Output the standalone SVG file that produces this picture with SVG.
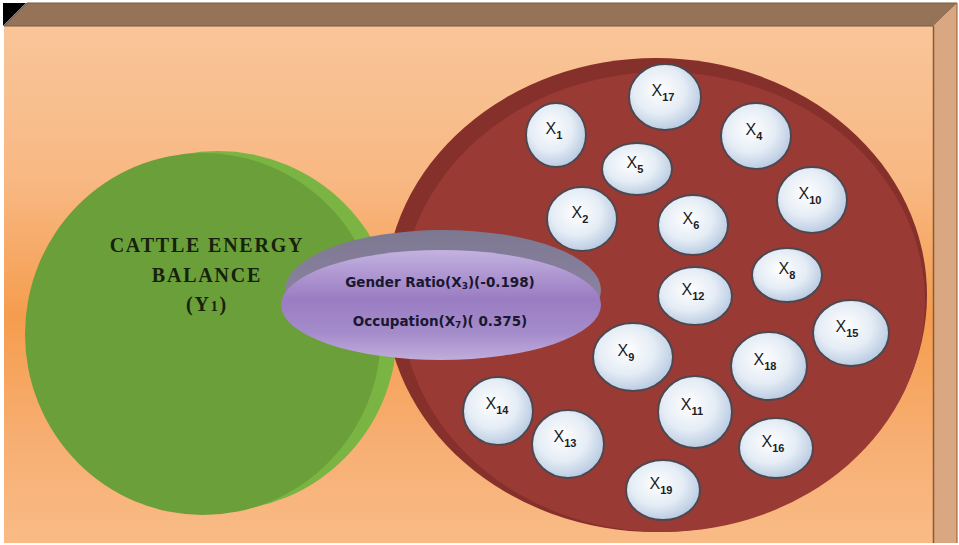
<svg xmlns="http://www.w3.org/2000/svg" width="959" height="545" viewBox="0 0 959 545">
  <defs>
    <linearGradient id="faceGrad" x1="0" y1="0" x2="0" y2="1">
      <stop offset="0" stop-color="#f9c599"/>
      <stop offset="0.3" stop-color="#f8b883"/>
      <stop offset="0.56" stop-color="#f59d4e"/>
      <stop offset="0.8" stop-color="#f7ae72"/>
      <stop offset="1" stop-color="#f9bb86"/>
    </linearGradient>
    <linearGradient id="purpleFace" x1="0" y1="0" x2="0" y2="1">
      <stop offset="0" stop-color="#c3b2e0"/>
      <stop offset="0.45" stop-color="#9a7cc2"/>
      <stop offset="0.75" stop-color="#a48ccb"/>
      <stop offset="1" stop-color="#c0acdc"/>
    </linearGradient>
    <linearGradient id="purpleRim" x1="0" y1="0" x2="0" y2="1">
      <stop offset="0" stop-color="#7d7892"/>
      <stop offset="1" stop-color="#958aab"/>
    </linearGradient>
    <radialGradient id="bubbleGrad" cx="0.42" cy="0.4" r="0.65">
      <stop offset="0" stop-color="#ffffff"/>
      <stop offset="0.55" stop-color="#e4ecf5"/>
      <stop offset="1" stop-color="#b3c6df"/>
    </radialGradient>
    <style>
      .bubble { fill: url(#bubbleGrad); stroke: #4d4850; stroke-width: 2; }
      .blabel { font-family: "Liberation Sans", Arial, sans-serif; font-size: 16px; fill: #1c1c24; text-anchor: middle; }
      .sub { font-size: 11px; font-weight: bold; }
      .title { font-family: "Liberation Serif", "Times New Roman", serif; font-size: 20px; font-weight: bold; fill: #17220d; text-anchor: middle; letter-spacing: 1.8px; }
      .ptext { font-family: "DejaVu Sans", "Liberation Sans", sans-serif; font-size: 13.5px; font-weight: bold; fill: #1a1830; text-anchor: middle; }
      .psub { font-size: 9px; }
    </style>
  </defs>

  <!-- box frame -->
  <rect x="0" y="0" width="959" height="545" fill="#ffffff"/>
  <rect x="4" y="26" width="930" height="517" fill="url(#faceGrad)"/>
  <polygon points="4,26 27,3 957,3 933,26" fill="#957358" stroke="#7d5a3e" stroke-width="1"/>
  <polygon points="3,3 26,3 3,26" fill="#000000"/>
  <polygon points="933,26 957,3 957,543 933,543" fill="#d9a882"/>
  <line x1="933.5" y1="26" x2="933.5" y2="543" stroke="#8b5a33" stroke-width="1.5"/>
  <line x1="957" y1="3" x2="957" y2="543" stroke="#8b5a33" stroke-width="1"/>

  <!-- Y1 disk -->
  <g id="node-y1">
    <ellipse cx="218" cy="331" rx="179" ry="180" fill="#7ab443"/>
    <ellipse cx="203" cy="334" rx="178" ry="181" fill="#6a9f3a"/>
    <text class="title" x="207" y="252">CATTLE ENERGY</text>
    <text class="title" x="207" y="282">BALANCE</text>
    <text class="title" x="207" y="311">(Y<tspan font-size="14">1</tspan>)</text>
  </g>

  <!-- predictor pool disk -->
  <g id="node-pool">
    <ellipse cx="656" cy="295" rx="271" ry="237" fill="#86302b"/>
    <ellipse cx="663" cy="302" rx="262" ry="230" fill="#9a3a34"/>
  </g>

  <!-- significant predictors -->
  <g id="node-significant">
    <ellipse cx="443" cy="290" rx="158" ry="60" fill="url(#purpleRim)"/>
    <ellipse cx="441" cy="305" rx="160" ry="55" fill="url(#purpleFace)"/>
    <text class="ptext" x="440" y="287">Gender Ratio(X<tspan class="psub" dy="2">3</tspan><tspan dy="-2">)(-0.198)</tspan></text>
    <text class="ptext" x="440" y="326">Occupation(X<tspan class="psub" dy="2">7</tspan><tspan dy="-2">)( 0.375)</tspan></text>
  </g>

  <!-- predictor bubbles -->
  <g id="node-x17"><ellipse class="bubble" cx="665" cy="97" rx="36" ry="33"/><text class="blabel" x="663" y="96">X<tspan class="sub" dy="5">17</tspan></text></g>
  <g id="node-x1"><ellipse class="bubble" cx="556" cy="135" rx="30" ry="32"/><text class="blabel" x="554" y="134">X<tspan class="sub" dy="5">1</tspan></text></g>
  <g id="node-x4"><ellipse class="bubble" cx="756" cy="136" rx="35" ry="33"/><text class="blabel" x="754" y="135">X<tspan class="sub" dy="5">4</tspan></text></g>
  <g id="node-x5"><ellipse class="bubble" cx="637" cy="169" rx="35" ry="26"/><text class="blabel" x="635" y="168">X<tspan class="sub" dy="5">5</tspan></text></g>
  <g id="node-x2"><ellipse class="bubble" cx="582" cy="219" rx="35" ry="32"/><text class="blabel" x="580" y="218">X<tspan class="sub" dy="5">2</tspan></text></g>
  <g id="node-x6"><ellipse class="bubble" cx="693" cy="225" rx="35" ry="30"/><text class="blabel" x="691" y="224">X<tspan class="sub" dy="5">6</tspan></text></g>
  <g id="node-x10"><ellipse class="bubble" cx="812" cy="200" rx="35" ry="33"/><text class="blabel" x="810" y="199">X<tspan class="sub" dy="5">10</tspan></text></g>
  <g id="node-x8"><ellipse class="bubble" cx="787" cy="275" rx="35" ry="27"/><text class="blabel" x="787" y="274">X<tspan class="sub" dy="5">8</tspan></text></g>
  <g id="node-x12"><ellipse class="bubble" cx="695" cy="296" rx="37" ry="29"/><text class="blabel" x="693" y="295">X<tspan class="sub" dy="5">12</tspan></text></g>
  <g id="node-x15"><ellipse class="bubble" cx="851" cy="333" rx="38" ry="33"/><text class="blabel" x="847" y="332">X<tspan class="sub" dy="5">15</tspan></text></g>
  <g id="node-x9"><ellipse class="bubble" cx="633" cy="357" rx="40" ry="34"/><text class="blabel" x="626" y="356">X<tspan class="sub" dy="5">9</tspan></text></g>
  <g id="node-x18"><ellipse class="bubble" cx="769" cy="366" rx="38" ry="34"/><text class="blabel" x="765" y="365">X<tspan class="sub" dy="5">18</tspan></text></g>
  <g id="node-x14"><ellipse class="bubble" cx="498" cy="411" rx="35" ry="34"/><text class="blabel" x="497" y="409">X<tspan class="sub" dy="5">14</tspan></text></g>
  <g id="node-x11"><ellipse class="bubble" cx="695" cy="412" rx="37" ry="36"/><text class="blabel" x="692" y="410">X<tspan class="sub" dy="5">11</tspan></text></g>
  <g id="node-x13"><ellipse class="bubble" cx="568" cy="444" rx="36" ry="34"/><text class="blabel" x="565" y="442">X<tspan class="sub" dy="5">13</tspan></text></g>
  <g id="node-x16"><ellipse class="bubble" cx="776" cy="448" rx="37" ry="30"/><text class="blabel" x="773" y="447">X<tspan class="sub" dy="5">16</tspan></text></g>
  <g id="node-x19"><ellipse class="bubble" cx="663" cy="490" rx="37" ry="30"/><text class="blabel" x="661" y="489">X<tspan class="sub" dy="5">19</tspan></text></g>
</svg>
